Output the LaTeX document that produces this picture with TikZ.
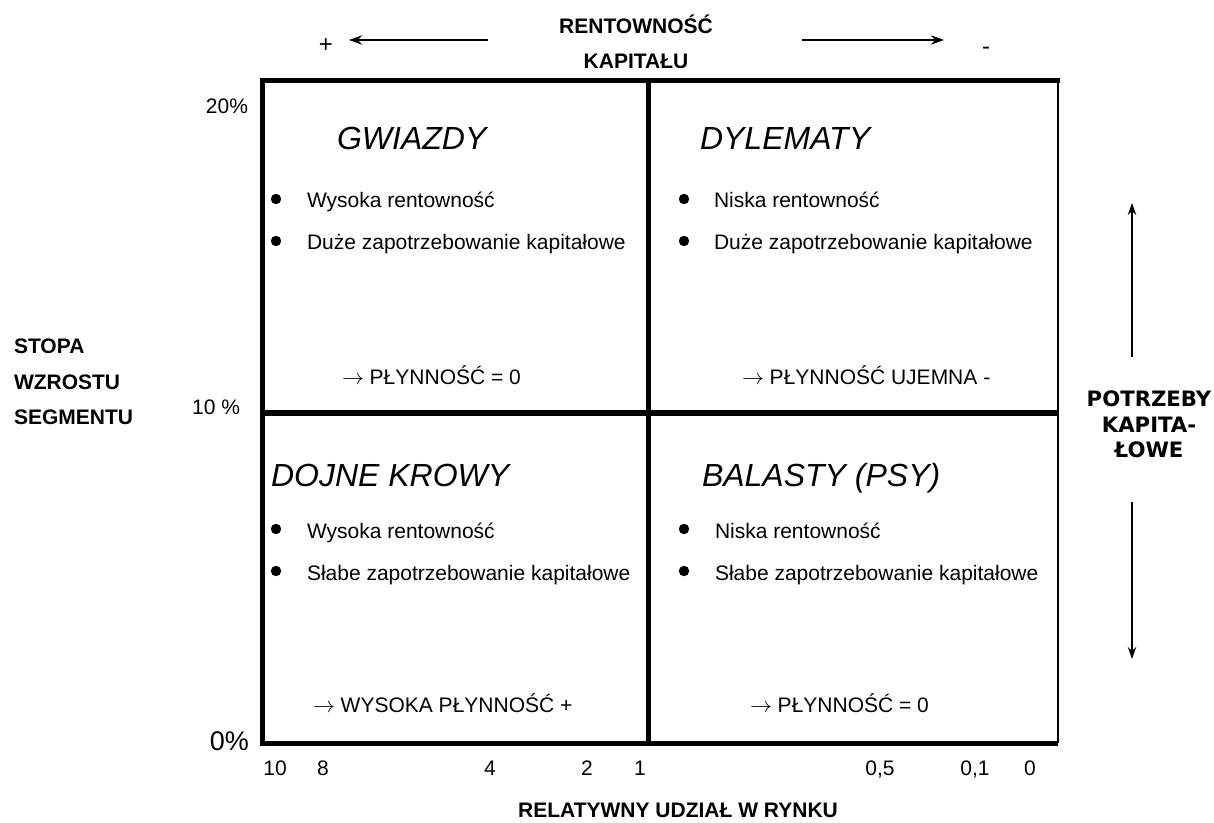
\documentclass[tikz,border=0pt]{standalone}
\usepackage{fontspec}
\setmainfont{Liberation Sans}
\newfontfamily\dejavu{DejaVu Sans}
\usetikzlibrary{arrows.meta}
\begin{document}
\begin{tikzpicture}[x=0.5pt,y=-0.5pt,
  every node/.style={inner sep=0pt,outer sep=0pt},
  txt/.style={font=\fontsize{10.5}{12.6}\selectfont},
  axis/.style={font=\fontsize{10.5}{12.6}\selectfont\bfseries},
  sideaxis/.style={font=\fontsize{10.6}{12.6}\selectfont\dejavu\bfseries,anchor=base},
  quadtitle/.style={font=\fontsize{16}{19}\selectfont\itshape,anchor=base west},
  item/.style={txt,anchor=base west},
  bul/.style={circle,fill=black,minimum size=5.2pt},
  frame/.style={line width=2.5pt},
  divider/.style={line width=2.8pt},
  arr/.style={line width=1pt,-{Stealth[length=6.5pt,width=4.6pt]}},
  varr/.style={line width=0.75pt,-{Stealth[length=6pt,width=4.2pt]}}]
\useasboundingbox (0,0) rectangle (1214,823);

% frame corners
\coordinate (tl) at (262.5,80.5);
\coordinate (tr) at (1060,80.5);
\coordinate (bl) at (262.5,743);
\coordinate (br) at (1058,743);
\coordinate (rt) at (1058,80.5);
\coordinate (mt) at (648.5,80.5);
\coordinate (mb) at (648.5,743);
\coordinate (ml) at (262.5,413);
\coordinate (mr) at (1058,413);

\draw[frame,line join=miter] (tr) -- (tl) -- (bl) -- (br);
\draw[line width=1pt] (rt) -- (br);
\draw[divider] (mt) -- (mb);
\draw[divider] (ml) -- (mr);

% top axis: capital profitability
\node[axis,anchor=base] (rent) at (636,34) {RENTOWNOŚĆ};
\node[axis,anchor=base] (kap) at (636,69) {KAPITAŁU};
\node[font=\fontsize{12}{14}\selectfont] (plus) at (326,46) {+};
\node[font=\fontsize{12}{14}\selectfont] (minus) at (986,51) {-};
\coordinate (la0) at (488,40);
\coordinate (la1) at (349,40);
\coordinate (ra0) at (802,40);
\coordinate (ra1) at (944,40);
\draw[arr] (la0) -- (la1);
\draw[arr] (ra0) -- (ra1);

% left axis: segment growth rate
\node[axis,anchor=base west] (s1) at (14,353) {STOPA};
\node[axis,anchor=base west] (s2) at (14,389) {WZROSTU};
\node[axis,anchor=base west] (s3) at (14,424) {SEGMENTU};
\node[txt,anchor=base east] (p20) at (248,114) {20\%};
\node[txt,anchor=base east] (p10) at (240,415) {10 \%};
\node[font=\fontsize{13.5}{16}\selectfont,anchor=base east] (p0) at (249,750) {0\%};

% bottom axis: relative market share
\node[txt,anchor=base] (n10) at (275,775) {10};
\node[txt,anchor=base] (n8) at (323,775) {8};
\node[txt,anchor=base] (n4) at (490,775) {4};
\node[txt,anchor=base] (n2) at (587,775) {2};
\node[txt,anchor=base] (n1) at (640,775) {1};
\node[txt,anchor=base] (n05) at (880,775) {0,5};
\node[txt,anchor=base] (n01) at (975,775) {0,1};
\node[txt,anchor=base] (n0) at (1030,775) {0};
\node[axis,anchor=base] (rel) at (678,817) {RELATYWNY UDZIAŁ W RYNKU};

% right axis: capital needs
\node[sideaxis] (potr1) at (1149,406) {POTRZEBY};
\node[sideaxis] (potr2) at (1149,432) {KAPITA-};
\node[sideaxis] (potr3) at (1149,457) {ŁOWE};
\coordinate (ua0) at (1132,357);
\coordinate (ua1) at (1132,203);
\coordinate (da0) at (1132,502);
\coordinate (da1) at (1132,659);
\draw[varr] (ua0) -- (ua1);
\draw[varr] (da0) -- (da1);

% quadrant: stars
\node[quadtitle] (gw) at (337,150) {GWIAZDY};
\node[bul] (gwb1) at (276,199) {};
\node[item] (gw1) at (307,208) {Wysoka rentowność};
\node[bul] (gwb2) at (276,241) {};
\node[item] (gw2) at (307,250) {Duże zapotrzebowanie kapitałowe};
\node[item] (gwp) at (342,384) {$\rightarrow$ PŁYNNOŚĆ = 0};

% quadrant: question marks
\node[quadtitle] (dy) at (700,150) {DYLEMATY};
\node[bul] (dyb1) at (684,199) {};
\node[item] (dy1) at (714,208) {Niska rentowność};
\node[bul] (dyb2) at (684,241) {};
\node[item] (dy2) at (714,250) {Duże zapotrzebowanie kapitałowe};
\node[item] (dyp) at (742,384) {$\rightarrow$ PŁYNNOŚĆ UJEMNA -};

% quadrant: cash cows
\node[quadtitle] (dk) at (271,486) {DOJNE KROWY};
\node[bul] (dkb1) at (276,529) {};
\node[item] (dk1) at (307,538) {Wysoka rentowność};
\node[bul] (dkb2) at (276,571) {};
\node[item] (dk2) at (307,580) {Słabe zapotrzebowanie kapitałowe};
\node[item] (dkp) at (313,712) {$\rightarrow$ WYSOKA PŁYNNOŚĆ +};

% quadrant: dogs
\node[quadtitle] (ba) at (702,486) {BALASTY (PSY)};
\node[bul] (bab1) at (684,529) {};
\node[item] (ba1) at (715,538) {Niska rentowność};
\node[bul] (bab2) at (684,571) {};
\node[item] (ba2) at (715,580) {Słabe zapotrzebowanie kapitałowe};
\node[item] (bap) at (750,712) {$\rightarrow$ PŁYNNOŚĆ = 0};
\end{tikzpicture}
\end{document}
